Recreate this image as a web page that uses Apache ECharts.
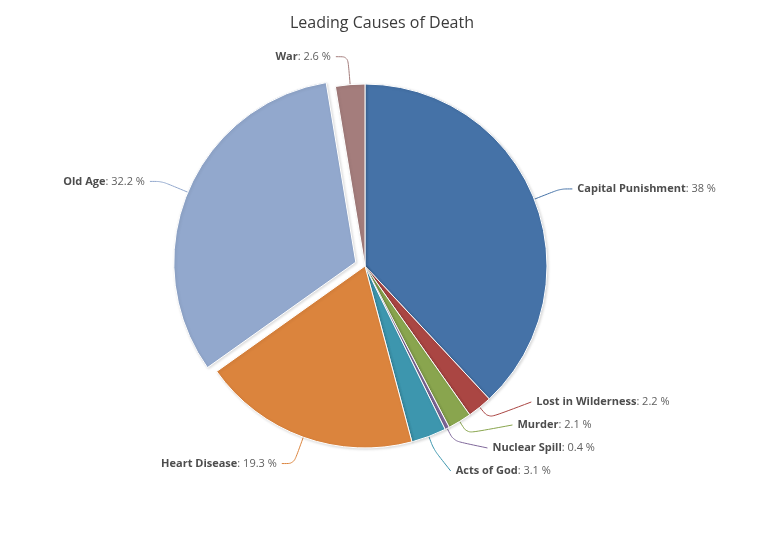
<!DOCTYPE html>
<html>
<head>
<meta charset="utf-8">
<script src="https://cdn.jsdelivr.net/npm/echarts@6/dist/echarts.min.js"></script>
<style>
  html, body { margin: 0; padding: 0; background: #fff; }
  #chartmain { width: 764px; height: 535px; }
</style>
</head>
<body>
<div id="chartmain"></div>
<script>
var causes = ['Capital Punishment', 'Lost in Wilderness', 'Murder', 'Nuclear Spill',
              'Acts of God', 'Heart Disease', 'Old Age', 'War'];
var shares = [38, 2.2, 2.1, 0.4, 3.1, 19.3, 32.2, 2.6]; // 百分比
var colors = ['#4572A7', '#AA4643', '#89A54E', '#80699B',
              '#3D96AE', '#DB843D', '#92A8CD', '#A47D7C'];
var selectedCause = 'Old Age';
var crowded = ['Lost in Wilderness', 'Murder', 'Nuclear Spill', 'Acts of God']; // 右下角挤在一起的小扇区

var pieCenter = [365, 266];
var chart = echarts.init(document.getElementById('chartmain'));

var pieData = causes.map(function (name, i) {
    return {
        name: name,
        value: shares[i],
        selected: name === selectedCause,
        itemStyle: { color: colors[i] },
        labelLine: { lineStyle: { color: colors[i] } }
    };
});

// 把右下角那组标签整体往上挪一些，连线重新画（起点仍在扇区边缘）
function liftCrowded(params) {
    if (crowded.indexOf(causes[params.dataIndex]) < 0 || !params.labelLinePoints) {
        return {};
    }
    var dy = -27;
    var pts = params.labelLinePoints;
    var p0 = pts[0];
    var vx = p0[0] - pieCenter[0], vy = p0[1] - pieCenter[1];
    var len = Math.sqrt(vx * vx + vy * vy);
    var p1 = [p0[0] + vx / len * 14, p0[1] + vy / len * 14];
    var p2 = [pts[2][0], pts[2][1] + dy];
    return { dy: dy, labelLinePoints: [p0, p1, p2] };
}

chart.setOption({
    animation: false,
    title: {
        text: 'Leading Causes of Death',
        left: 'center',
        top: 10,
        textStyle: {
            fontFamily: 'Open Sans',
            fontSize: 16,
            fontWeight: 'normal',
            color: '#3b3b3b'
        }
    },
    series: [{
        type: 'pie',
        center: pieCenter,
        radius: 182,
        startAngle: 90,
        selectedMode: 'single',
        selectedOffset: 10,
        itemStyle: {
            borderColor: '#fff',
            borderWidth: 1,
            shadowColor: 'rgba(0,0,0,0.15)',
            shadowBlur: 3,
            shadowOffsetX: 1,
            shadowOffsetY: 1
        },
        emphasis: { disabled: true },
        label: {
            show: true,
            fontFamily: 'Open Sans',
            fontSize: 11,
            lineHeight: 21,
            color: '#606060',
            formatter: function (p) {
                return '{b|' + p.name + '}: ' + p.value + ' %';
            },
            rich: {
                b: { fontWeight: 'bold', color: '#4d4d4d', fontFamily: 'Open Sans', fontSize: 11, lineHeight: 21 }
            }
        },
        labelLine: {
            show: true,
            length: 28,
            length2: 12,
            smooth: 0.3,
            lineStyle: { width: 1 }
        },
        labelLayout: liftCrowded,
        data: pieData
    }]
});
</script>
</body>
</html>
